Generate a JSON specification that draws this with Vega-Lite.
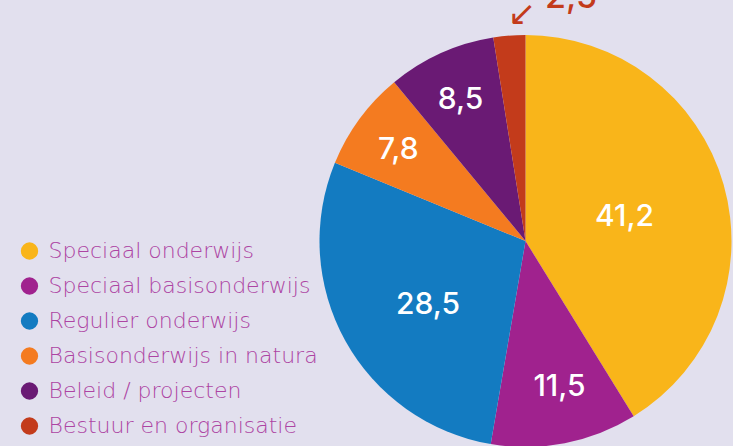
{
  "$schema": "https://vega.github.io/schema/vega-lite/v6.json",
  "autosize": {"type": "none"},
  "width": 412,
  "height": 412,
  "padding": {"left": 319.5, "top": 35, "right": 1.5, "bottom": 0},
  "background": "#e2e0ee",
  "config": {"view": {"stroke": null}},
  "data": {
    "values": [
      {"idx": 1, "categorie": "Speciaal onderwijs", "waarde": 41.2, "label": "41,2"},
      {"idx": 2, "categorie": "Speciaal basisonderwijs", "waarde": 11.5, "label": "11,5"},
      {"idx": 3, "categorie": "Regulier onderwijs", "waarde": 28.5, "label": "28,5"},
      {"idx": 4, "categorie": "Basisonderwijs in natura", "waarde": 7.8, "label": "7,8"},
      {"idx": 5, "categorie": "Beleid / projecten", "waarde": 8.5, "label": "8,5"},
      {"idx": 6, "categorie": "Bestuur en organisatie", "waarde": 2.5, "label": "2,5"}
    ]
  },
  "encoding": {
    "theta": {"field": "waarde", "type": "quantitative", "stack": true},
    "order": {"field": "idx", "type": "quantitative"}
  },
  "layer": [
    {
      "mark": {"type": "arc", "outerRadius": 206},
      "encoding": {
        "color": {
          "field": "categorie",
          "type": "nominal",
          "scale": {
            "domain": ["Speciaal onderwijs", "Speciaal basisonderwijs", "Regulier onderwijs", "Basisonderwijs in natura", "Beleid / projecten", "Bestuur en organisatie"],
            "range": ["#f9b51a", "#a0228e", "#137bc1", "#f47b20", "#6a1a74", "#c33b1b"]
          },
          "legend": {
            "title": null,
            "orient": "none",
            "legendX": -301,
            "legendY": 205,
            "symbolType": "circle",
            "symbolSize": 300,
            "symbolStrokeWidth": 0,
            "labelFont": "DejaVu Sans",
            "labelFontWeight": 200,
            "labelFontSize": 22,
            "labelColor": "#ad44a3",
            "labelOffset": 8,
            "rowPadding": 13,
            "labelLimit": 400
          }
        }
      }
    },
    {
      "mark": {"type": "text", "radius": 103, "dy": 4, "font": "Inter", "fontWeight": 500, "fontSize": 30, "color": "#ffffff", "align": "center", "baseline": "middle"},
      "encoding": {"text": {"condition": {"test": "datum.idx == 1", "field": "label"}, "value": ""}}
    },
    {
      "mark": {"type": "text", "radius": 116, "dx": 4, "dy": 8, "font": "Inter", "fontWeight": 500, "fontSize": 30, "color": "#ffffff", "align": "center", "baseline": "middle"},
      "encoding": {"text": {"condition": {"test": "datum.idx == 3", "field": "label"}, "value": ""}}
    },
    {
      "mark": {"type": "text", "radius": 147, "dx": 6, "dy": 2, "font": "Inter", "fontWeight": 500, "fontSize": 30, "color": "#ffffff", "align": "center", "baseline": "middle"},
      "encoding": {"text": {"condition": {"test": "datum.idx == 2", "field": "label"}, "value": ""}}
    },
    {
      "mark": {"type": "text", "radius": 158, "dy": 3, "font": "Inter", "fontWeight": 500, "fontSize": 30, "color": "#ffffff", "align": "center", "baseline": "middle"},
      "encoding": {"text": {"condition": {"test": "datum.idx == 4 || datum.idx == 5", "field": "label"}, "value": ""}}
    },
    {
      "mark": {"type": "text", "radius": 235, "dx": 64, "dy": -9, "font": "Inter", "fontWeight": 500, "fontSize": 34, "color": "#c33b1b", "align": "center", "baseline": "middle"},
      "encoding": {"text": {"condition": {"test": "datum.idx == 6", "field": "label"}, "value": ""}}
    },
    {
      "mark": {"type": "text", "radius": 225, "dx": 14, "dy": -2, "font": "DejaVu Sans", "fontSize": 34, "color": "#c33b1b", "align": "center", "baseline": "middle"},
      "encoding": {"text": {"condition": {"test": "datum.idx == 6", "value": "↙"}, "value": ""}}
    }
  ]
}
